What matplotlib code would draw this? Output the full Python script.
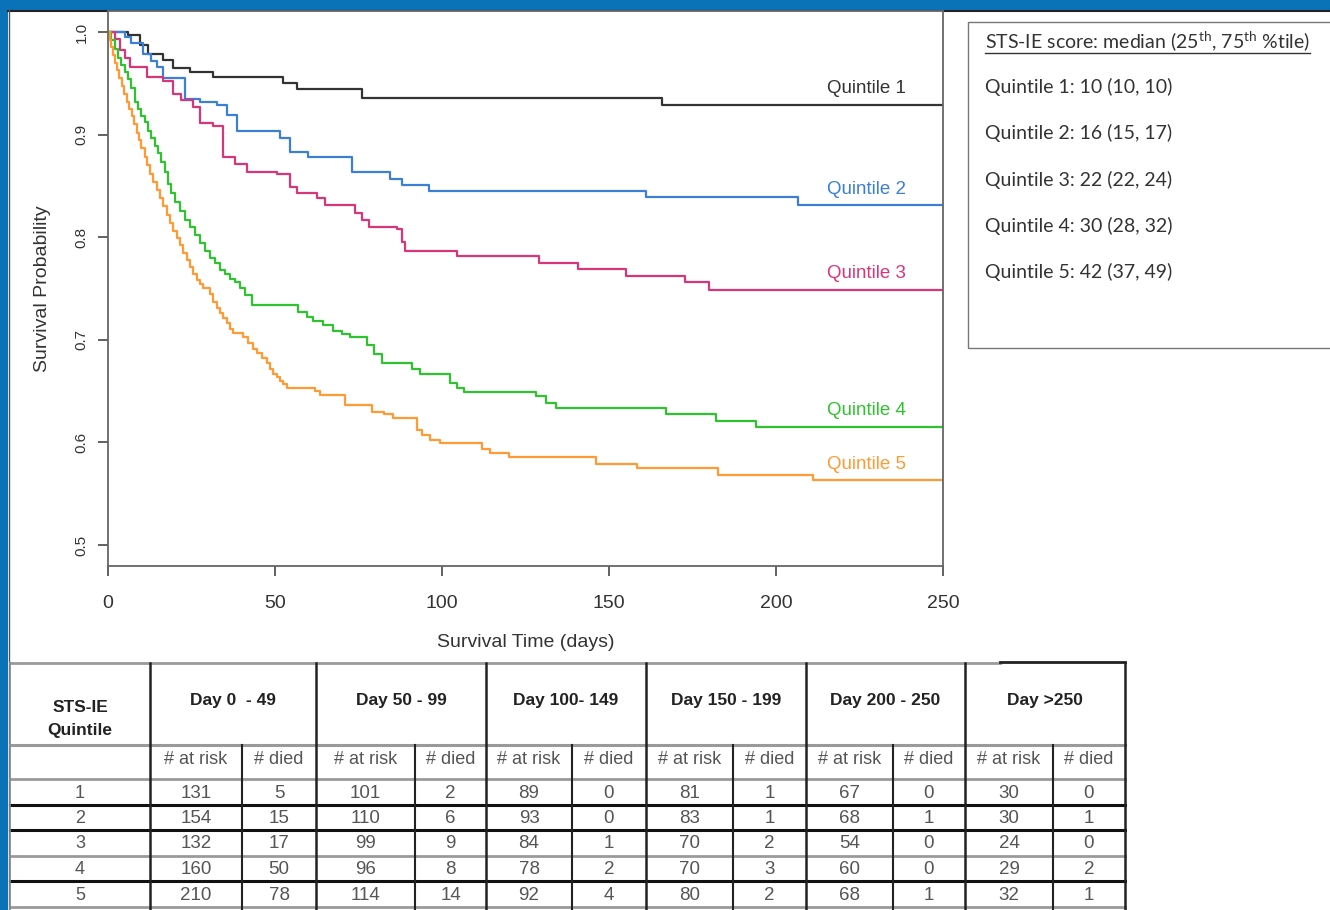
import matplotlib
matplotlib.use("Agg")
import matplotlib.pyplot as plt
from matplotlib.patches import Rectangle

plt.rcParams['font.family'] = ['Liberation Sans', 'DejaVu Sans']
plt.rcParams['mathtext.fontset'] = 'custom'
plt.rcParams['mathtext.rm'] = 'Lato'

# Kaplan-Meier step data: (time in days, survival after drop)
q1_t = [6, 9.5, 12, 16.5, 19.5, 24.5, 31.5, 52.5, 56.5, 76, 166]
q1_s = [0.997, 0.987, 0.979, 0.973, 0.965, 0.961, 0.956, 0.950, 0.944, 0.936, 0.929]

q2_t = [5, 7, 10.5, 13, 14.6, 16.5, 23, 27.5, 32.5, 35.5, 38.5, 51.5, 54.5, 60,
        73, 84.5, 88, 96, 161, 206.5]
q2_s = [0.995, 0.989, 0.979, 0.972, 0.966, 0.955, 0.935, 0.932, 0.929, 0.919, 0.904,
        0.897, 0.883, 0.878, 0.864, 0.857, 0.851, 0.845, 0.839, 0.831]

q3_t = [2, 3.6, 5, 6.6, 11.6, 16.5, 19.5, 22, 25.5, 27.5, 31.5, 34.5, 38, 41.5, 50.5,
        54.5, 56.5, 62.5, 65, 74, 76, 78, 86.5, 88, 89, 104.4, 129, 140.8, 155,
        172.8, 180]
q3_s = [0.993, 0.982, 0.975, 0.966, 0.956, 0.952, 0.940, 0.934, 0.927, 0.911, 0.908,
        0.878, 0.871, 0.864, 0.862, 0.849, 0.843, 0.838, 0.831, 0.824, 0.817, 0.810,
        0.808, 0.795, 0.787, 0.782, 0.775, 0.769, 0.762, 0.756, 0.749]

q4_t = [1, 2, 3, 4, 5, 6, 7, 8, 9, 10, 11, 12, 13, 14, 15, 16, 17, 18, 19, 20, 21.5,
        23, 24.5, 26, 27.5, 29, 30.5, 32, 33.5, 35, 36.5, 38, 39.5, 41, 43, 57, 59.5,
        61.5, 64.5, 67.5, 70, 72.5, 77.5, 79.5, 82, 91, 93.5, 102.5, 104.5, 106.5,
        128, 131, 134, 167, 182, 194]
q4_s = [0.992, 0.983, 0.975, 0.968, 0.961, 0.954, 0.945, 0.932, 0.925, 0.918, 0.912,
        0.904, 0.897, 0.889, 0.882, 0.873, 0.864, 0.852, 0.843, 0.834, 0.826, 0.817,
        0.810, 0.802, 0.794, 0.787, 0.780, 0.775, 0.768, 0.764, 0.759, 0.756, 0.750,
        0.744, 0.734, 0.727, 0.722, 0.718, 0.714, 0.709, 0.706, 0.703, 0.695, 0.686,
        0.677, 0.672, 0.667, 0.658, 0.653, 0.649, 0.645, 0.638, 0.634, 0.628, 0.621,
        0.615]

q5_t = [0.5, 1, 1.6, 2.1, 2.6, 3.2, 4.1, 4.8, 5.6, 6.3, 7.1, 7.8, 8.6, 9.2, 10, 11,
        11.8, 12.6, 13.6, 14.6, 15.6, 16.6, 17.6, 18.6, 19.6, 20.6, 21.6, 22.6, 23.6,
        24.6, 25.5, 26.5, 27.5, 28.5, 30.5, 31.5, 32.5, 33.5, 34.5, 35.5, 36.5, 37.5,
        40.5, 42, 43.5, 44.5, 46, 47.5, 48.5, 49.5, 50.5, 51.5, 52.5, 53.5, 62, 63.5,
        71, 79, 82.5, 85.3, 92.4, 94, 96.4, 99.4, 112, 114.4, 120, 146, 158.3, 182.7,
        211]
q5_s = [0.992, 0.985, 0.978, 0.970, 0.963, 0.955, 0.947, 0.940, 0.932, 0.925, 0.918,
        0.910, 0.902, 0.895, 0.887, 0.878, 0.870, 0.862, 0.854, 0.846, 0.838, 0.830,
        0.822, 0.814, 0.806, 0.799, 0.792, 0.785, 0.778, 0.771, 0.764, 0.758, 0.754,
        0.750, 0.745, 0.737, 0.731, 0.726, 0.721, 0.716, 0.711, 0.707, 0.703, 0.697,
        0.691, 0.687, 0.682, 0.677, 0.672, 0.667, 0.664, 0.660, 0.657, 0.653, 0.650,
        0.646, 0.636, 0.630, 0.628, 0.624, 0.612, 0.607, 0.602, 0.599, 0.594, 0.590,
        0.586, 0.579, 0.575, 0.568, 0.563]

curve_names = ['Quintile 1', 'Quintile 2', 'Quintile 3', 'Quintile 4', 'Quintile 5']
curve_colors = ['#333333', '#3b7fd6', '#d8367a', '#2fc42f', '#ff9a35']

score_title = r'STS-IE score: median (25$^{\rm th}$, 75$^{\rm th}$ %tile)'
score_lines = ['Quintile 1: 10 (10, 10)', 'Quintile 2: 16 (15, 17)',
               'Quintile 3: 22 (22, 24)', 'Quintile 4: 30 (28, 32)',
               'Quintile 5: 42 (37, 49)']

# risk table
period_labels = ['Day 0  - 49', 'Day 50 - 99', 'Day 100- 149', 'Day 150 - 199',
                 'Day 200 - 250', 'Day >250']
quintile_ids = ['1', '2', '3', '4', '5']
at_risk_q1 = [131, 101, 89, 81, 67, 30]
at_risk_q2 = [154, 110, 93, 83, 68, 30]
at_risk_q3 = [132, 99, 84, 70, 54, 24]
at_risk_q4 = [160, 96, 78, 70, 60, 29]
at_risk_q5 = [210, 114, 92, 80, 68, 32]
died_q1 = [5, 2, 0, 1, 0, 0]
died_q2 = [15, 6, 0, 1, 1, 1]
died_q3 = [17, 9, 1, 2, 0, 0]
died_q4 = [50, 8, 2, 3, 0, 2]
died_q5 = [78, 14, 4, 2, 1, 1]

times = [q1_t, q2_t, q3_t, q4_t, q5_t]
survs = [q1_s, q2_s, q3_s, q4_s, q5_s]
at_risk = [at_risk_q1, at_risk_q2, at_risk_q3, at_risk_q4, at_risk_q5]
died = [died_q1, died_q2, died_q3, died_q4, died_q5]

W, H = 1330, 910
fig = plt.figure(figsize=(W / 100, H / 100), dpi=100)
fig.patch.set_facecolor('#0a72b6')

# background layer in pixel coordinates
bg = fig.add_axes([0, 0, 1, 1], zorder=0)
bg.set_xlim(0, W)
bg.set_ylim(H, 0)
bg.axis('off')
bg.add_patch(Rectangle((8, 10), W, H, facecolor='white', edgecolor='none'))
bg.plot([8, W], [10.5, 10.5], color='#222222', lw=1.5)
bg.plot([8.5, 8.5], [10, H], color='#555555', lw=1)

# score box
bg.add_patch(Rectangle((968, 22), 400, 326, facecolor='white', edgecolor='#777777', lw=1))
title_txt = bg.text(985, 42, score_title, fontsize=14, family='Lato', color='#333333',
                    va='center', ha='left')
for i, line in enumerate(score_lines):
    bg.text(985, 87 + i * 46.3, line, fontsize=14, family='Lato', color='#333333',
            va='center', ha='left')

# table grid
col_x = [10, 150, 242, 316, 415, 486, 572, 646, 733, 806, 893, 965, 1053, 1125]
row_y = [663, 745, 779, 805, 830, 856, 881, 907]
grey = '#9a9a9a'
bg.plot([10, 1000], [663, 663], color=grey, lw=2)
bg.plot([1000, 1125], [662, 662], color='#222222', lw=2)
bg.plot([10, 1125], [745, 745], color=grey, lw=2.2)
bg.plot([10, 1125], [779, 779], color=grey, lw=2)
row_styles = [('#111111', 2.2), ('#111111', 2.2), (grey, 2), ('#111111', 2.2), (grey, 2)]
for yy, (c, lw) in zip(row_y[3:], row_styles):
    bg.plot([10, 1125], [yy, yy], color=c, lw=lw)
for j, xx in enumerate(col_x):
    if j == 0:
        bg.plot([xx, xx], [663, H], color='#888888', lw=1.2)
    elif j % 2 == 1 or j == len(col_x) - 1:
        bg.plot([xx, xx], [663, H], color='#222222', lw=1.8)
    else:
        bg.plot([xx, xx], [745, H], color='#222222', lw=1.5)

bg.text(80, 707, 'STS-IE', fontsize=12.5, fontweight='bold', color='#222222',
        ha='center', va='center')
bg.text(80, 731, 'Quintile', fontsize=12.5, fontweight='bold', color='#222222',
        ha='center', va='center')
for k, lab in enumerate(period_labels):
    cx = (col_x[1 + 2 * k] + col_x[3 + 2 * k]) / 2
    bg.text(cx, 700, lab, fontsize=12.5, fontweight='bold', color='#222222',
            ha='center', va='center')
    bg.text((col_x[1 + 2 * k] + col_x[2 + 2 * k]) / 2, 760, '# at risk', fontsize=13,
            color='#555555', ha='center', va='center')
    bg.text((col_x[2 + 2 * k] + col_x[3 + 2 * k]) / 2, 760, '# died', fontsize=13,
            color='#555555', ha='center', va='center')

num_font = ['Liberation Sans Narrow', 'Liberation Sans']
for r in range(5):
    cy = (row_y[2 + r] + row_y[3 + r]) / 2 + 1
    bg.text(80, cy, quintile_ids[r], fontsize=13, family=num_font, color='#555555',
            ha='center', va='center')
    for k in range(6):
        x1 = (col_x[1 + 2 * k] + col_x[2 + 2 * k]) / 2
        x2 = (col_x[2 + 2 * k] + col_x[3 + 2 * k]) / 2
        bg.text(x1, cy, str(at_risk[r][k]), fontsize=13.5, family=num_font,
                color='#555555', ha='center', va='center')
        bg.text(x2, cy, str(died[r][k]), fontsize=13.5, family=num_font,
                color='#555555', ha='center', va='center')

# survival plot
ax = fig.add_axes([108 / W, 1 - 566 / H, (943 - 108) / W, (566 - 11) / H], zorder=2)
for t, s, name, col in zip(times, survs, curve_names, curve_colors):
    xs = [0] + t + [250]
    ys = [1.0] + s + [s[-1]]
    ax.step(xs, ys, where='post', color=col, lw=1.6)
    ax.annotate(name, (227, s[-1]), xytext=(0, 8.5), textcoords='offset points',
                ha='center', va='baseline', fontsize=13.5, color=col)

ax.set_xlim(0, 250)
ax.set_ylim(0.4795, 1.0205)
ax.set_xticks([0, 50, 100, 150, 200, 250])
ax.set_yticks([0.5, 0.6, 0.7, 0.8, 0.9, 1.0])
ax.set_yticklabels(['0.5', '0.6', '0.7', '0.8', '0.9', '1.0'], rotation=90, va='center')
ax.tick_params(axis='x', labelsize=14, length=7, width=1.3, color='#555555',
               labelcolor='#333333', pad=14)
ax.tick_params(axis='y', labelsize=11, length=7, width=1.3, color='#555555',
               labelcolor='#333333', pad=7)
for sp in ax.spines.values():
    sp.set_color('#666666')
    sp.set_linewidth(1.3)
ax.set_xlabel('Survival Time (days)', fontsize=14, color='#333333', labelpad=16)
ax.set_ylabel('Survival Probability', fontsize=14, color='#333333', labelpad=17)

# underline for the score box title
fig.canvas.draw()
bb = title_txt.get_window_extent()
inv = bg.transData.inverted()
(x0, y0), (x1, y1) = inv.transform([[bb.x0, bb.y0], [bb.x1, bb.y1]])
bg.plot([x0, x1], [y0 - 1, y0 - 1], color='#333333', lw=1)

fig.savefig('out.png', dpi=100, facecolor=fig.get_facecolor())
